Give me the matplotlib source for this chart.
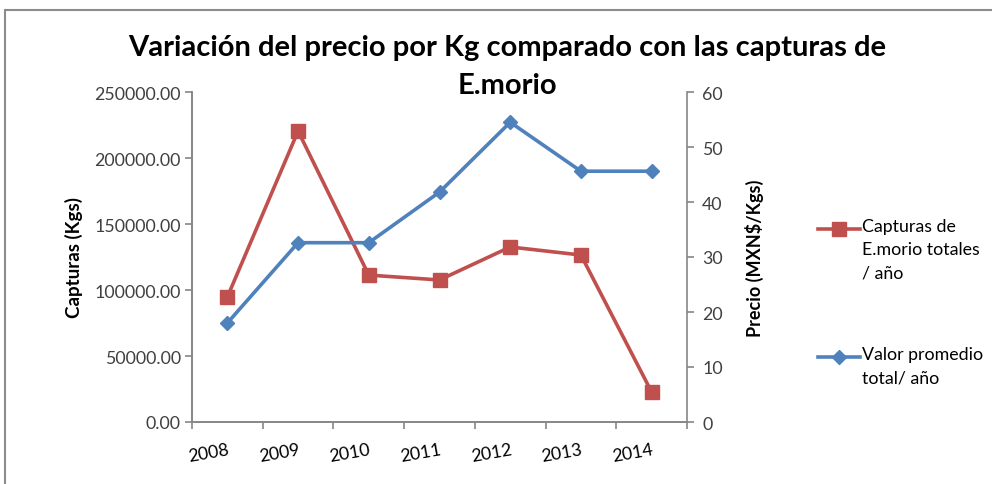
import numpy as np
import matplotlib.pyplot as plt
from matplotlib.lines import Line2D
from matplotlib.patches import Rectangle

# Data
years = ["2008", "2009", "2010", "2011", "2012", "2013", "2014"]
capturas = [94700, 220400, 111300, 107600, 132600, 126500, 22700]
precio = [18.0, 32.6, 32.6, 41.8, 54.5, 45.6, 45.6]
legend_labels = ["Capturas de\nE.morio totales\n/ año", "Valor promedio\ntotal/ año"]

red = "#C0504D"
blue = "#4F81BD"
grey = "#868686"
txt = "#404040"

plt.rcParams["font.family"] = ["Lato", "DejaVu Sans"]

fig = plt.figure(figsize=(9.92, 4.85), dpi=100)
fig.patches.append(Rectangle((5 / 992, -0.1), 1.1, 1 - 11 / 485 + 0.1,
                             transform=fig.transFigure, fill=False,
                             edgecolor="#8c8c8c", linewidth=1.5))

ax = fig.add_axes([192 / 992, 62 / 485, (687 - 192) / 992, (423 - 93) / 485])
ax2 = ax.twinx()

x = np.arange(len(years)) + 0.5
ax.plot(x, capturas, color=red, lw=2.6, marker="s", ms=10, zorder=3)
ax2.plot(x, precio, color=blue, lw=2.6, marker="D", ms=7, zorder=3)

ax.set_xlim(0, len(years))
ax.set_ylim(0, 250000)
ax2.set_ylim(0, 60)
ax.set_yticks(np.arange(0, 250001, 50000))
ax.set_yticklabels([f"{v:.2f}" for v in np.arange(0, 250001, 50000)])
ax2.set_yticks(np.arange(0, 61, 10))

ax.set_xticks(np.arange(len(years) + 1))
ax.set_xticklabels([])
ax.set_xticks(x, minor=True)
ax.set_xticklabels(years, minor=True, rotation=10, ha="right", va="top",
                   rotation_mode="anchor")
ax.tick_params(axis="x", which="minor", length=0, pad=14, labelsize=12.8, labelcolor="black")
ax.tick_params(axis="x", which="major", length=5, color=grey, width=1.2)
ax.tick_params(axis="y", length=5, color=grey, width=1.2, labelsize=12.8, labelcolor=txt, pad=3)
ax2.tick_params(axis="y", length=5, color=grey, width=1.2, labelsize=12.8, labelcolor=txt, pad=6)

for a in (ax, ax2):
    a.spines["top"].set_visible(False)
    for s in ("left", "right", "bottom"):
        a.spines[s].set_color(grey)
        a.spines[s].set_linewidth(1.2)
ax.spines["right"].set_visible(False)

ax.set_ylabel("Capturas (Kgs)", fontsize=13.5, fontweight="bold", labelpad=8)
ax2.set_ylabel("Precio (MXN$/Kgs)", fontsize=13, fontweight="bold", labelpad=16)

fig.text(507 / 992, 1 - 48 / 485, "Variación del precio por Kg comparado con las capturas de",
         ha="center", va="center", fontsize=21, fontweight="bold")
fig.text(507 / 992, 1 - 86 / 485, "E.morio",
         ha="center", va="center", fontsize=21, fontweight="bold")

# legend drawn by hand so the key sits on the first text line, like Excel
for (color, marker, ms), label, ykey in zip([(red, "s", 10), (blue, "D", 7)],
                                            legend_labels, [230, 358]):
    yf = 1 - ykey / 485
    fig.add_artist(Line2D([818 / 992, 839 / 992, 860 / 992], [yf, yf, yf],
                          transform=fig.transFigure, color=color, lw=2.6,
                          marker=marker, ms=ms, markevery=[1]))
    fig.text(862 / 992, 1 - (ykey - 11) / 485, label, ha="left", va="top",
             fontsize=12.8, linespacing=1.55)

fig.savefig("out.png", dpi=100)
